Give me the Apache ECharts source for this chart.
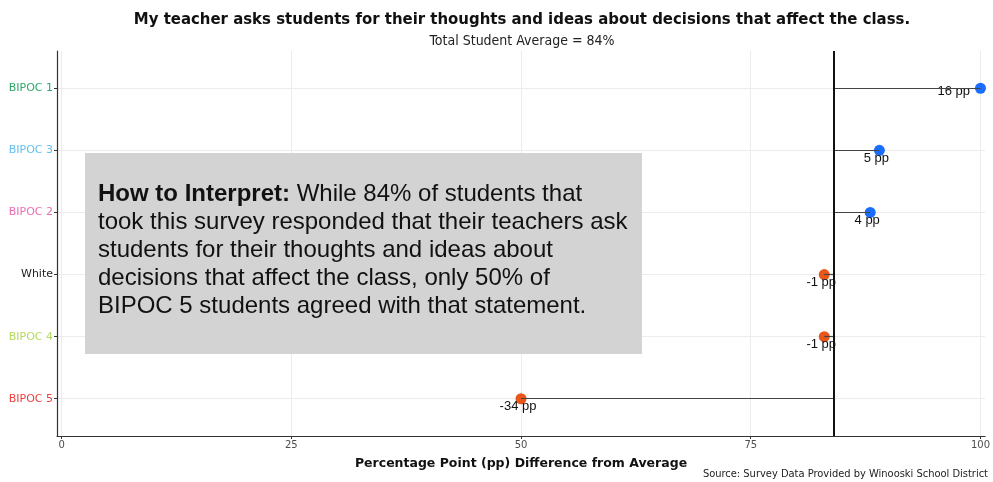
<!DOCTYPE html>
<html>
<head>
<meta charset="utf-8">
<script src="https://cdn.jsdelivr.net/npm/echarts@6/dist/echarts.min.js"></script>
<style>
  html, body { margin: 0; padding: 0; background: #fff; }
  #chart { width: 993px; height: 482px; }
</style>
</head>
<body>
<div id="chart"></div>
<script>
// groups top to bottom
const groups = ['BIPOC 1', 'BIPOC 3', 'BIPOC 2', 'White', 'BIPOC 4', 'BIPOC 5']
const groupColors = ['#2ea86a', '#62c2f2', '#ee6fb4', '#222222', '#b4db5c', '#ee3f3f']
// percent agreeing per group
const groupValues = [100, 89, 88, 83, 83, 50]
const average = 84
const xTicks = [0, 25, 50, 75, 100]

const chart = echarts.init(document.getElementById('chart'))

const rich = {}
groupColors.forEach((c, i) => {
  rich['g' + i] = { color: c, fontSize: 11, fontFamily: 'DejaVu Sans' }
})

const points = groupValues.map((v, i) => {
  const diff = v - average
  const item = {
    value: [v, i],
    itemStyle: { color: diff >= 0 ? '#1a6dff' : '#e8561a', opacity: 1 },
    label: { show: true, formatter: diff + ' pp' }
  }
  if (v >= 99) {
    item.label.position = 'left'
    item.label.offset = [0, 3]
  } else {
    item.label.position = 'inside'
    item.label.offset = [-3, 8]
  }
  return item
})

const segments = groupValues.map((v, i) => [
  { coord: [average, i] },
  { coord: [v, i] }
])

chart.setOption({
  animation: false,
  title: [{
    text: 'My teacher asks students for their thoughts and ideas about decisions that affect the class.',
    left: 522,
    textAlign: 'center',
    top: 11,
    padding: 0,
    textStyle: { fontSize: 16.6, fontWeight: 'bold', color: '#111', fontFamily: 'DejaVu Sans Condensed' }
  }, {
    text: 'Total Student Average = ' + average + '%',
    left: 522,
    textAlign: 'center',
    top: 34,
    padding: 0,
    textStyle: { fontSize: 14, fontWeight: 'normal', color: '#222', fontFamily: 'DejaVu Sans Condensed' }
  }],
  grid: { left: 57, right: 6, top: 51, bottom: 46 },
  xAxis: {
    type: 'value',
    min: -0.5,
    max: 100.5,
    name: 'Percentage Point (pp) Difference from Average',
    nameLocation: 'middle',
    nameGap: 21,
    nameTextStyle: { fontSize: 12.5, fontWeight: 'bold', color: '#111', fontFamily: 'DejaVu Sans' },
    axisLine: { onZero: false, lineStyle: { color: '#333', width: 1.2 } },
    axisTick: { customValues: xTicks, length: 3, lineStyle: { color: '#333' } },
    axisLabel: { customValues: xTicks, fontSize: 10, color: '#4d4d4d', margin: 4, fontFamily: 'DejaVu Sans' },
    splitLine: { show: true, lineStyle: { color: '#ececec', width: 1 } }
  },
  yAxis: {
    type: 'value',
    min: -0.6,
    max: 5.6,
    inverse: true,
    axisLine: { show: true, onZero: false, lineStyle: { color: '#333', width: 1.2 } },
    axisTick: { show: true, customValues: [0, 1, 2, 3, 4, 5], length: 3, lineStyle: { color: '#333' } },
    axisLabel: {
      customValues: [0, 1, 2, 3, 4, 5],
      margin: 4,
      formatter: v => '{g' + v + '|' + groups[v] + '}',
      rich: rich
    },
    splitLine: { show: true, lineStyle: { color: '#ececec', width: 1 } }
  },
  series: [{
    type: 'scatter',
    symbolSize: 11,
    data: points,
    label: { fontSize: 13, color: '#111', fontFamily: 'Liberation Sans' },
    markLine: {
      silent: true,
      symbol: 'none',
      label: { show: false },
      data: segments.concat([{ xAxis: average, lineStyle: { color: '#111', width: 2, type: 'solid' } }]),
      lineStyle: { color: '#444', width: 1.2, type: 'solid' }
    },
    z: 3
  }],
  graphic: [{
    type: 'rect',
    left: 85,
    top: 153,
    shape: { width: 557, height: 201 },
    style: { fill: '#d3d3d3' },
    z: 10
  }, {
    type: 'text',
    left: 98,
    top: 180,
    z: 11,
    style: {
      text: '{b|How to Interpret:} While 84% of students that\ntook this survey responded that their teachers ask\nstudents for their thoughts and ideas about\ndecisions that affect the class, only 50% of\nBIPOC 5 students agreed with that statement.',
      fontSize: 24,
      fontFamily: 'Liberation Sans',
      fill: '#111',
      lineHeight: 28,
      rich: {
        b: { fontSize: 24, fontWeight: 'bold', fontFamily: 'Liberation Sans', fill: '#111', lineHeight: 28 }
      }
    }
  }, {
    type: 'text',
    right: 5,
    top: 469,
    style: { text: 'Source: Survey Data Provided by Winooski School District', fontSize: 11, fill: '#222', fontFamily: 'DejaVu Sans Condensed' }
  }]
})
</script>
</body>
</html>
